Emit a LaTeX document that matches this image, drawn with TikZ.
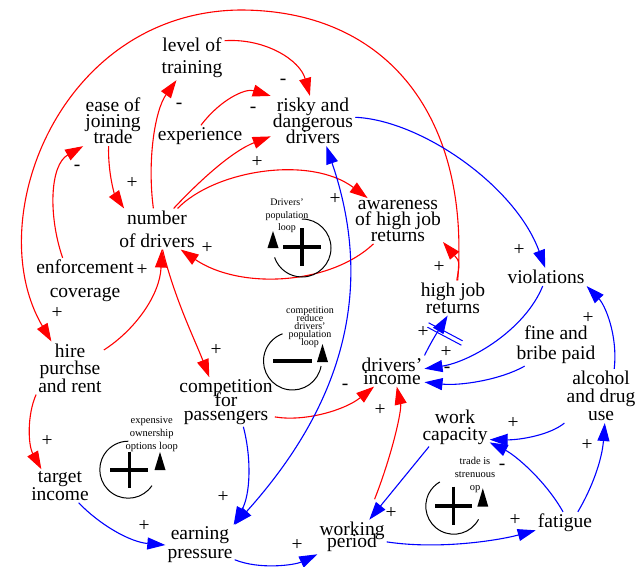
\documentclass[tikz,border=0pt]{standalone}
\usepackage{fontspec}
\setmainfont{Liberation Serif}
\usetikzlibrary{arrows.meta}
\definecolor{linkred}{RGB}{255,0,0}
\definecolor{linkblue}{RGB}{0,0,255}
\setlength{\lineskiplimit}{-100pt}

\begin{document}
\begin{tikzpicture}[x=1pt, y={(0pt,-1pt)}, >={Triangle[length=18pt,width=12pt]},
    var/.style={align=center, inner sep=2pt, font=\fontsize{19.5}{17}\selectfont},
    sgn/.style={inner sep=0pt, font=\fontsize{19.5}{20}\selectfont},
    looplbl/.style={align=center, inner sep=0pt, font=\fontsize{10}{12.5}\selectfont},
    redlink/.style={draw=linkred, line width=1.1pt, ->},
    bluelink/.style={draw=linkblue, line width=1.1pt, ->},
    loopline/.style={draw=black, line width=1pt},
    loopsign/.style={draw=black, line width=3.5pt}]
  \useasboundingbox (0,0) rectangle (640,567);
  % variables
  \node[var, font=\fontsize{19.5}{23}\selectfont] (nd) at (157,229) {number\\of drivers};
  \node[var, font=\fontsize{19.5}{22}\selectfont] (train) at (192,58) {level of\\training};
  \node[var, font=\fontsize{19.5}{16}\selectfont] (ease) at (113,121) {ease of\\joining\\trade};
  \node[var] (exper) at (200,136) {experience};
  \node[var, font=\fontsize{19.5}{16}\selectfont] (risky) at (313,121) {risky and\\dangerous\\drivers};
  \node[var, font=\fontsize{19.5}{16}\selectfont] (aware) at (398,221) {awareness\\of high job\\returns};
  \node[var, font=\fontsize{19.5}{24}\selectfont] (enforce) at (85,281) {enforcement\\coverage};
  \node[var, font=\fontsize{19.5}{17.5}\selectfont] (hire) at (70,368) {hire\\purchse\\and rent};
  \node[var, font=\fontsize{19.5}{18}\selectfont] (target) at (60,486) {target\\income};
  \node[var, font=\fontsize{19.5}{19}\selectfont] (earn) at (200,545) {earning\\pressure};
  \node[var, font=\fontsize{19.5}{14}\selectfont] (compet) at (226,402) {competition\\for\\passengers};
  \node[var, font=\fontsize{19.5}{13}\selectfont] (income) at (392,371) {drivers'\\income};
  \node[var] (highjob) at (453,298) {high job\\returns};
  \node[var] (viol) at (546,277) {violations};
  \node[var, font=\fontsize{19.5}{20}\selectfont] (fine) at (556,345) {fine and\\bribe paid};
  \node[var, font=\fontsize{19.5}{18}\selectfont] (alcohol) at (601,396) {alcohol\\and drug\\use};
  \node[var] (workcap) at (455,427) {work\\capacity};
  \node[var, font=\fontsize{19.5}{12.5}\selectfont] (working) at (352,537) {working\\period};
  \node[var] (fatigue) at (565,523) {fatigue};

  % red links
  \draw[redlink] (ease.-100) .. controls (108,175) and (115,195) .. (nd.148);
  \draw[redlink] (enforce.134) .. controls (48,215) and (50,165) .. (ease.south west);
  \draw[redlink] (nd.100) .. controls (147,160) and (155,110) .. (train.-125);
  \draw[redlink] (train.28) .. controls (265,38) and (300,60) .. (risky.97);
  \draw[redlink] (exper.85) .. controls (220,100) and (245,88) .. (risky.north west);
  \draw[redlink] (nd.51) .. controls (205,175) and (235,150) .. (risky.-160);
  \draw[redlink] (nd.45) .. controls (215,170) and (310,155) .. (aware.143);
  \draw[redlink] (aware.-137) .. controls (330,285) and (240,290) .. (nd.-41);
  \draw[redlink] (hire.28) .. controls (135,330) and (160,295) .. (nd.-77);
  \draw[redlink] (nd.-75) .. controls (175,300) and (195,340) .. (compet.124);
  \draw[redlink] (highjob.75) .. controls (470,120) and (390,10) .. (240,10)
    .. controls (60,12) and (-20,220) .. (hire.125);
  \draw[redlink] (highjob.78) .. controls (460,262) .. (aware.-25);
  \draw[redlink] (hire.south west) .. controls (27,415) and (28,445) .. (target.138);
  \draw[redlink] (compet.-17) .. controls (305,422) and (345,410) .. (income.-139);
  \draw[redlink, shorten <=22pt] (working.50) .. controls (392,455) and (402,410) .. (income.-73);

  % blue links
  \draw[bluelink] (risky.5) .. controls (420,120) and (515,185) .. (viol.95);
  \draw[bluelink, <->] (earn.north east) .. controls (365,380) and (365,260) .. (risky.-62);
  \draw[bluelink] (compet.-55) .. controls (252,460) and (250,495) .. (earn.31);
  \draw[bluelink] (target.-42) .. controls (100,525) and (130,542) .. (earn.west);
  \draw[bluelink] (earn.-23) .. controls (260,570) and (295,565) .. (working.south west);
  \draw[bluelink] (working.-8) .. controls (440,550) and (500,540) .. (fatigue.-166);
  \draw[bluelink] (workcap.-143) -- (working.45);
  \draw[bluelink] (fatigue.100) .. controls (545,480) and (515,455) .. (workcap.-24);
  \draw[bluelink] (alcohol.south west) .. controls (550,435) and (520,440) .. (workcap.-20);
  \draw[bluelink] (fatigue.41) .. controls (592,488) and (602,460) .. (alcohol.-82);
  \draw[bluelink] (alcohol.64) .. controls (618,335) and (605,305) .. (viol.south east);
  \draw[bluelink] (income.north east) .. controls (432,340) and (440,328) .. (highjob.-107);
  \draw[bluelink] (viol.-110) .. controls (525,330) and (470,362) .. (income.4);
  \draw[bluelink] (fine.-146) .. controls (500,380) and (460,386) .. (income.-19);
  % delay mark
  \draw[linkblue, line width=1pt] (428.6,322.8) -- (462.6,340.8) (427.4,327.2) -- (461.4,345.2);

  % polarities
  \foreach \sx/\sy [count=\i] in {132/183, 257/162, 335/199, 207/248, 142/270, 57/313,
      216/350, 439/267, 519/250, 423/332, 446/352, 588/318, 47/441, 380/410, 513/423,
      587/445, 223/497, 144/526, 297/545, 391/513, 515/520}
    \node[sgn] (p\i) at (\sx,\sy) {+};
  \foreach \sx/\sy [count=\i] in {77/168, 179/106, 283/82, 253/110, 345/387, 447/370, 502/467}
    \node[sgn] (m\i) at (\sx,\sy) {-};

  % Drivers' population loop
  \draw[loopline] (302,248) ++(270:29) arc[start angle=270, end angle=521, radius=29];
  \fill (267.5,248) -- (273,231) -- (278.5,248) -- cycle;
  \draw[loopsign] (283,247) -- (321,247) (302,228) -- (302,266);
  \node[looplbl] (drvlbl) at (287,216) {Drivers'\\population\\loop};
  % competition loop
  \draw[loopline] (292.5,361) ++(10:29) arc[start angle=10, end angle=250, radius=29];
  \fill (317,362) -- (322.5,344) -- (328,362) -- cycle;
  \draw[loopsign] (273,361) -- (312,361);
  \node[looplbl, font=\fontsize{10}{8}\selectfont] (complbl) at (310,327) {competition\\reduce\\drivers'\\population\\loop};
  % expensive ownership loop
  \draw[loopline] (128.3,469.7) ++(34:28.5) arc[start angle=34, end angle=270, radius=28.5];
  \fill (154.5,470) -- (160,452) -- (165.5,470) -- cycle;
  \draw[loopsign] (110,470) -- (148.3,470) (129.3,451.7) -- (129.3,488.3);
  \node[looplbl, font=\fontsize{10.5}{13}\selectfont] (explbl) at (151.7,434.6) {expensive\\ownership\\options loop};
  % trade is strenuous loop
  \draw[loopline] (453.8,506.2) ++(28:28) arc[start angle=28, end angle=240, radius=28];
  \fill (477.3,506.7) -- (482.8,488.3) -- (488.3,506.7) -- cycle;
  \draw[loopsign] (435,506) -- (471.7,506) (453.3,486.7) -- (453.3,525);
  \node[looplbl, font=\fontsize{10.5}{13}\selectfont] (tradelbl) at (475,474.7) {trade is\\strenuous\\op};
\end{tikzpicture}
\end{document}
